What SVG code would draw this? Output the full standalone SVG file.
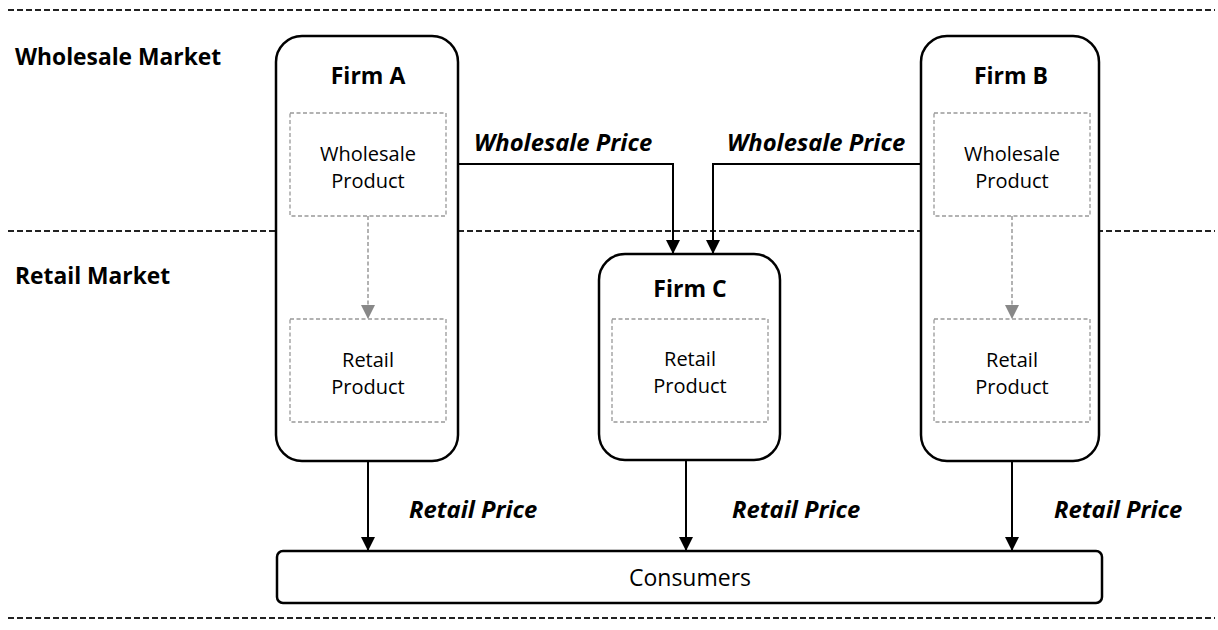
<svg xmlns="http://www.w3.org/2000/svg" width="1218" height="630" viewBox="0 0 1218 630">
<defs>
<style>
.sep{stroke:#222;stroke-width:2;stroke-dasharray:6 3;fill:none}
.firm{fill:#fff;stroke:#000;stroke-width:2.5}
.inner{fill:#fff;stroke:#999;stroke-width:1.3;stroke-dasharray:4 2.5}
.conn{stroke:#000;stroke-width:2;fill:none}
.gconn{stroke:#999;stroke-width:1.5;stroke-dasharray:4 2.5;fill:none}
.t{font-family:"Open Sans","Liberation Sans",sans-serif;fill:#000}
.title{font-size:23px;font-weight:bold}
.sec{font-size:22.8px;font-weight:bold}
.body{font-size:20px}
.cons{font-size:23px}
.lbl{font-size:23.8px;font-weight:bold;font-style:italic}
</style>
<marker id="ah" markerWidth="14" markerHeight="14" refX="14" refY="7" orient="auto" markerUnits="userSpaceOnUse">
<path d="M0,0 L14,7 L0,14 Z" fill="#000"/>
</marker>
<marker id="gah" markerWidth="14" markerHeight="14" refX="14" refY="7" orient="auto" markerUnits="userSpaceOnUse">
<path d="M0,0 L14,7 L0,14 Z" fill="#888"/>
</marker>
</defs>
<rect width="1218" height="630" fill="#fff"/>
<g id="separators">
<line class="sep" x1="8" y1="10" x2="1215" y2="10"/>
<line class="sep" x1="8" y1="231" x2="1215" y2="231"/>
<line class="sep" x1="8" y1="618" x2="1215" y2="618"/>
</g>
<text class="t sec" x="15" y="65">Wholesale Market</text>
<text class="t sec" x="15" y="284">Retail Market</text>
<g id="firmA">
<rect class="firm" x="276" y="36" width="182" height="425" rx="26"/>
<text class="t title" x="368" y="84" text-anchor="middle">Firm A</text>
<rect class="inner" x="290" y="113" width="156" height="103"/>
<text class="t body" x="368" y="161" text-anchor="middle">Wholesale</text>
<text class="t body" x="368" y="188" text-anchor="middle">Product</text>
<rect class="inner" x="290" y="319" width="156" height="103"/>
<text class="t body" x="368" y="367" text-anchor="middle">Retail</text>
<text class="t body" x="368" y="394" text-anchor="middle">Product</text>
</g>
<g id="firmB">
<rect class="firm" x="921" y="36" width="178" height="425" rx="26"/>
<text class="t title" x="1011" y="84" text-anchor="middle">Firm B</text>
<rect class="inner" x="934" y="113" width="156" height="103"/>
<text class="t body" x="1012" y="161" text-anchor="middle">Wholesale</text>
<text class="t body" x="1012" y="188" text-anchor="middle">Product</text>
<rect class="inner" x="934" y="319" width="156" height="103"/>
<text class="t body" x="1012" y="367" text-anchor="middle">Retail</text>
<text class="t body" x="1012" y="394" text-anchor="middle">Product</text>
</g>
<g id="firmC">
<rect class="firm" x="599" y="254" width="181" height="206" rx="26"/>
<text class="t title" x="690" y="297" text-anchor="middle">Firm C</text>
<rect class="inner" x="612" y="319" width="156" height="103"/>
<text class="t body" x="690" y="366" text-anchor="middle">Retail</text>
<text class="t body" x="690" y="393" text-anchor="middle">Product</text>
</g>
<g id="consumers">
<rect class="firm" x="277" y="551" width="825" height="52" rx="6"/>
<text class="t cons" x="690" y="586" text-anchor="middle">Consumers</text>
</g>
<g id="connectors">
<path class="gconn" d="M368,216 V319" marker-end="url(#gah)"/>
<path class="gconn" d="M1012,216 V319" marker-end="url(#gah)"/>
<path class="conn" d="M458,164 H673 V254" marker-end="url(#ah)"/>
<path class="conn" d="M921,164 H713 V254" marker-end="url(#ah)"/>
<path class="conn" d="M368,461 V551" marker-end="url(#ah)"/>
<path class="conn" d="M686,460 V551" marker-end="url(#ah)"/>
<path class="conn" d="M1012,461 V551" marker-end="url(#ah)"/>
<text class="t lbl" x="474" y="151">Wholesale Price</text>
<text class="t lbl" x="727" y="151">Wholesale Price</text>
<text class="t lbl" x="409" y="518">Retail Price</text>
<text class="t lbl" x="732" y="518">Retail Price</text>
<text class="t lbl" x="1054" y="518">Retail Price</text>
</g>
</svg>
